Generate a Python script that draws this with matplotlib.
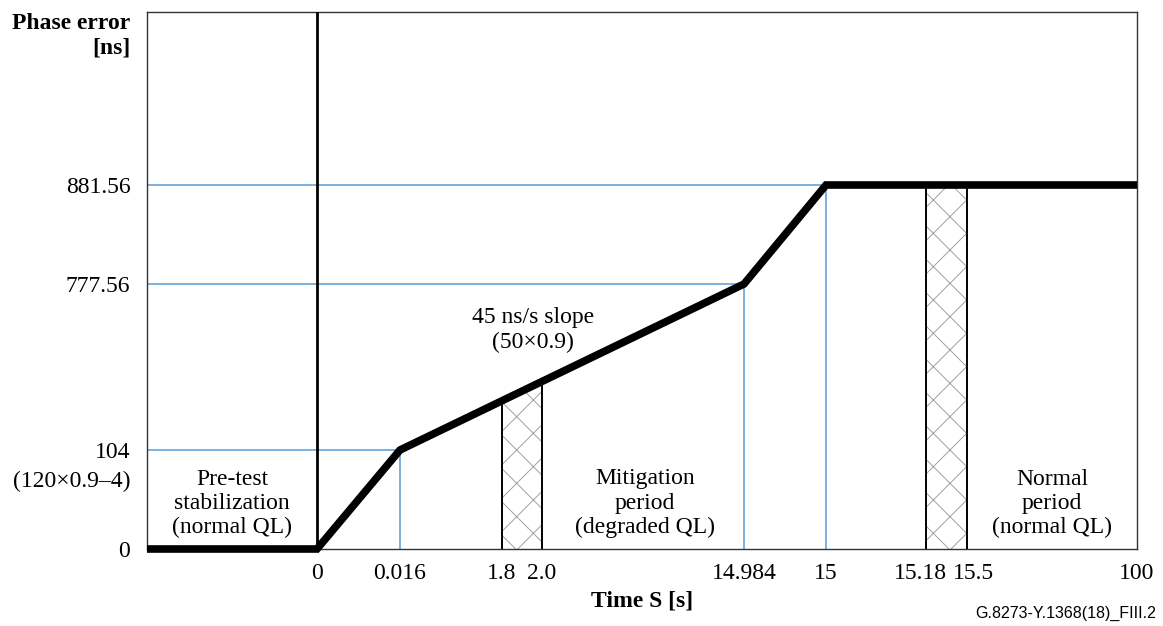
import numpy as np
import matplotlib.pyplot as plt
import matplotlib.transforms as mtransforms

plt.rcParams['font.family'] = ['Liberation Serif', 'DejaVu Serif']
plt.rcParams['font.size'] = 17
plt.rcParams['hatch.linewidth'] = 0.7

# Piecewise axes: tick values and where they sit along each axis (in pixels)
x_ticks = [0, 0.016, 1.8, 2.0, 14.984, 15, 15.18, 15.5, 100]
x_tick_labels = ['0', '0.016', '1.8', '2.0', '14.984', '15', '15.18', '15.5', '100']
x_break = [-1, 0, 0.016, 1.8, 2.0, 14.984, 15, 15.18, 15.5, 100]
x_break_px = [147, 317, 400, 502, 542, 744, 826, 926, 967, 1137]

y_ticks = [0, 104, 777.56, 881.56]
y_tick_labels = ['0', '104', '777.56', '881.56']
y_break = [0, 104, 777.56, 881.56, 1100]
y_break_px = [549, 450, 284, 185, 12]

# Phase error profile
time_s = [-1, 0, 0.016, 14.984, 15, 100]
phase_ns = [0, 0, 104, 777.56, 881.56, 881.56]

# Reference (blue) guide lines: time, phase
guide_t = [0.016, 14.984, 15]
guide_p = [104, 777.56, 881.56]

# Hatched measurement windows
windows = [(1.8, 2.0), (15.18, 15.5)]


def fwd_x(v):
    return np.interp(v, x_break, x_break_px)


def inv_x(v):
    return np.interp(v, x_break_px, x_break)


def fwd_y(v):
    return np.interp(v, y_break, -np.array(y_break_px, dtype=float))


def inv_y(v):
    return np.interp(v, -np.array(y_break_px, dtype=float), y_break)


fig = plt.figure(figsize=(11.63, 6.26), dpi=100)
ax = fig.add_axes([147 / 1163, 1 - 549 / 626, (1137 - 147) / 1163, (549 - 12) / 626])
ax.set_xscale('function', functions=(fwd_x, inv_x))
ax.set_yscale('function', functions=(fwd_y, inv_y))
ax.set_xlim(-1, 100)
ax.set_ylim(0, 1100)

blue = '#5b9bd5'
for t, p in zip(guide_t, guide_p):
    ax.plot([-1, t], [p, p], color=blue, lw=1.1, zorder=2)
    ax.plot([t, t], [0, p], color=blue, lw=1.1, zorder=2)

# vertical axis at t = 0
ax.axvline(0, color='black', lw=2, zorder=3)


def curve_at(t):
    # height of the drawn (straight in display) curve at time t
    return inv_y(np.interp(fwd_x(t), fwd_x(np.array(time_s)), fwd_y(np.array(phase_ns))))


for a, b in windows:
    ts = np.linspace(a, b, 30)
    top = curve_at(ts)
    ax.fill_between(ts, 0, top, facecolor='white', edgecolor='#a0a0a0',
                    hatch='x', lw=0, zorder=2)
    ax.plot([a, a], [0, curve_at(a)], color='black', lw=1.4, zorder=3)
    ax.plot([b, b], [0, curve_at(b)], color='black', lw=1.4, zorder=3)

ax.plot(time_s, phase_ns, color='black', lw=5.5, solid_joinstyle='miter',
        solid_capstyle='butt', zorder=5, clip_on=False)

ax.set_xticks(x_ticks)
ax.set_xticklabels(x_tick_labels)
ax.set_yticks(y_ticks)
ax.set_yticklabels(y_tick_labels)
ax.tick_params(axis='x', length=0, pad=10)
ax.tick_params(axis='y', length=0, pad=12)
for s in ax.spines.values():
    s.set_color('#333333')
    s.set_linewidth(1)

# nudge the two crowded labels apart
labels = ax.get_xticklabels()
for lab, dx in ((labels[6], -6), (labels[7], 6)):
    lab.set_transform(lab.get_transform() + mtransforms.ScaledTranslation(dx / 100, 0, fig.dpi_scale_trans))

ax.annotate('(120×0.9–4)', xy=(0, 104), xycoords=('axes fraction', 'data'),
            xytext=(-12, -23), textcoords='offset points', ha='right', va='center')

ax.set_xlabel('Time S [s]', fontweight='bold', labelpad=5)
fig.text(130 / 1163, 1 - 36 / 626, 'Phase error\n[ns]', fontweight='bold',
         ha='right', va='center', linespacing=1.2)

ax.text(1.955, 591, '45 ns/s slope\n(50×0.9)', ha='center', va='center')
ax.text(-0.5, 48, 'Pre-test\nstabilization\n(normal QL)', ha='center', va='center')
ax.text(8.6, 48, 'Mitigation\nperiod\n(degraded QL)', ha='center', va='center')
ax.text(57.75, 48, 'Normal\nperiod\n(normal QL)', ha='center', va='center')

fig.text(1156 / 1163, 1 - 613 / 626, 'G.8273-Y.1368(18)_FIII.2', family='Liberation Sans',
         fontsize=11.5, ha='right', va='center')

fig.savefig('out.png', dpi=100)
